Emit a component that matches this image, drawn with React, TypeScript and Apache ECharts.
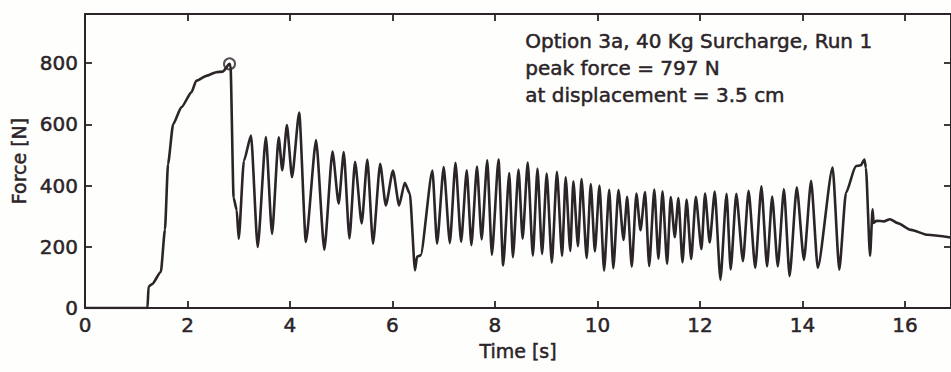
import React, { useEffect, useRef } from "react";
import * as echarts from "echarts";

// Time [s] of each read point
const timeS: number[] = [
  0, 1.22, 1.24, 1.31, 1.48, 1.56, 1.62, 1.72, 1.88, 2.08, 2.17, 2.37, 2.56, 2.69, 2.82, 2.84, 2.9, 2.96, 3.0,
  3.1, 3.24, 3.37, 3.53, 3.65, 3.78, 3.85, 3.94, 4.04, 4.18, 4.31, 4.51, 4.67, 4.83, 4.95, 5.05, 5.16, 5.27,
  5.4, 5.51, 5.62, 5.76, 5.87, 6.01, 6.13, 6.24, 6.34, 6.44, 6.48, 6.55, 6.78, 6.87, 7.0, 7.12, 7.23, 7.34,
  7.45, 7.54, 7.65, 7.74, 7.85, 7.94, 8.07, 8.16, 8.28, 8.35, 8.46, 8.54, 8.64, 8.74, 8.83, 8.92, 9.01, 9.11,
  9.21, 9.31, 9.38, 9.47, 9.53, 9.62, 9.69, 9.79, 9.87, 9.95, 10.04, 10.13, 10.23, 10.31, 10.41, 10.51, 10.58,
  10.67, 10.76, 10.84, 10.93, 11.01, 11.11, 11.19, 11.27, 11.36, 11.43, 11.51, 11.58, 11.66, 11.74, 11.83,
  11.92, 12.03, 12.1, 12.19, 12.29, 12.4, 12.52, 12.6, 12.71, 12.84, 12.95, 13.08, 13.2, 13.31, 13.41, 13.52,
  13.64, 13.75, 13.89, 14.03, 14.17, 14.3, 14.59, 14.72, 14.85, 15.04, 15.14, 15.21, 15.24, 15.32, 15.37,
  15.39, 15.45, 15.59, 15.71, 15.86, 16.12, 16.44, 16.9,
];

// Force [N] read at each time above
const forceN: number[] = [
  0, 0, 70, 78, 118, 255, 470, 600, 655, 705, 742, 758, 770, 772, 797, 790, 360, 320, 226,
  480, 563, 199, 558, 242, 557, 450, 597, 427, 638, 216, 548, 190, 511, 341, 509, 227, 477,
  276, 485, 210, 471, 335, 449, 335, 409, 373, 123, 168, 172, 449, 210, 460, 212, 474, 216,
  450, 205, 462, 224, 482, 174, 485, 139, 441, 166, 452, 226, 475, 171, 455, 176, 439, 148,
  445, 170, 427, 186, 414, 202, 421, 163, 405, 185, 400, 122, 386, 130, 385, 222, 363,
  135, 374, 254, 379, 137, 387, 161, 381, 144, 362, 231, 359, 149, 354, 160,
  363, 192, 374, 214, 380, 92, 373, 126, 373, 153, 383, 131, 397, 136, 364, 136,
  388, 104, 394, 157, 415, 131, 459, 125, 376, 463, 466, 485, 458, 170, 322,
  278, 285, 283, 290, 277, 255, 239, 230,
];

const peakPoint: number[] = [2.82, 797];

const xTicks = { min: 0, max: 16.9, interval: 2 };
const yTicks = { min: 0, max: 960, interval: 200 };

const noteLines: string[] = [
  "Option 3a, 40 Kg Surcharge, Run 1",
  "peak force = 797 N",
  "at displacement = 3.5 cm",
];

const INK = "#2b2428";
const FONT = "DejaVu Sans";

export default function App() {
  const ref = useRef<HTMLDivElement>(null);
  useEffect(() => {
    if (!ref.current) return;
    const chart = echarts.init(ref.current, undefined, { renderer: "svg" });
    const data = timeS.map((t, i) => [t, forceN[i]]);
    const heavy = { textBorderColor: INK, textBorderWidth: 0.5 };
    const baseX = {
      type: "value",
      min: xTicks.min,
      max: xTicks.max,
      interval: xTicks.interval,
      splitLine: { show: false },
      axisLine: { show: true, onZero: false, lineStyle: { color: INK, width: 2 } },
      axisTick: { show: true, inside: true, length: 7, lineStyle: { color: INK, width: 1.8 } },
    };
    const baseY = {
      type: "value",
      min: yTicks.min,
      max: yTicks.max,
      interval: yTicks.interval,
      splitLine: { show: false },
      axisLine: { show: true, onZero: false, lineStyle: { color: INK, width: 2 } },
      axisTick: { show: true, inside: true, length: 7, lineStyle: { color: INK, width: 1.8 } },
    };
    chart.setOption({
      animation: false,
      backgroundColor: "#fefefc",
      grid: { left: 85, top: 14, width: 868, height: 294 },
      xAxis: [
        {
          ...baseX,
          position: "bottom",
          name: "Time [s]",
          nameLocation: "middle",
          nameGap: 33,
          nameTextStyle: { color: INK, fontFamily: FONT, fontSize: 19, ...heavy },
          axisLabel: {
            color: INK,
            fontFamily: FONT,
            fontSize: 20,
            margin: 7,
            showMaxLabel: false,
            ...heavy,
          },
        },
        { ...baseX, position: "top", axisLabel: { show: false } },
      ],
      yAxis: [
        {
          ...baseY,
          position: "left",
          name: "Force [N]",
          nameLocation: "middle",
          nameGap: 55,
          nameTextStyle: { color: INK, fontFamily: FONT, fontSize: 19, ...heavy },
          axisLabel: {
            color: INK,
            fontFamily: FONT,
            fontSize: 20,
            margin: 7,
            showMaxLabel: false,
            ...heavy,
          },
        },
        { ...baseY, position: "right", axisLabel: { show: false } },
      ],
      series: [
        {
          type: "line",
          data,
          showSymbol: false,
          smooth: 0.2,
          smoothMonotone: "x",
          lineStyle: { color: INK, width: 2.6 },
          clip: true,
        },
        {
          type: "scatter",
          data: [peakPoint],
          symbol: "emptyCircle",
          symbolSize: 11,
          itemStyle: { color: INK, borderColor: INK, borderWidth: 2.2 },
        },
      ],
      graphic: noteLines.map((txt, i) => ({
        type: "text",
        left: 525,
        top: 31 + i * 27,
        style: {
          text: txt,
          fill: INK,
          stroke: INK,
          lineWidth: 0.5,
          font: `20px "${FONT}"`,
        },
      })),
    });
    return () => chart.dispose();
  }, []);
  return (
    <div
      ref={ref}
      style={{ position: "fixed", left: 0, top: 0, width: 951, height: 372 }}
    />
  );
}
